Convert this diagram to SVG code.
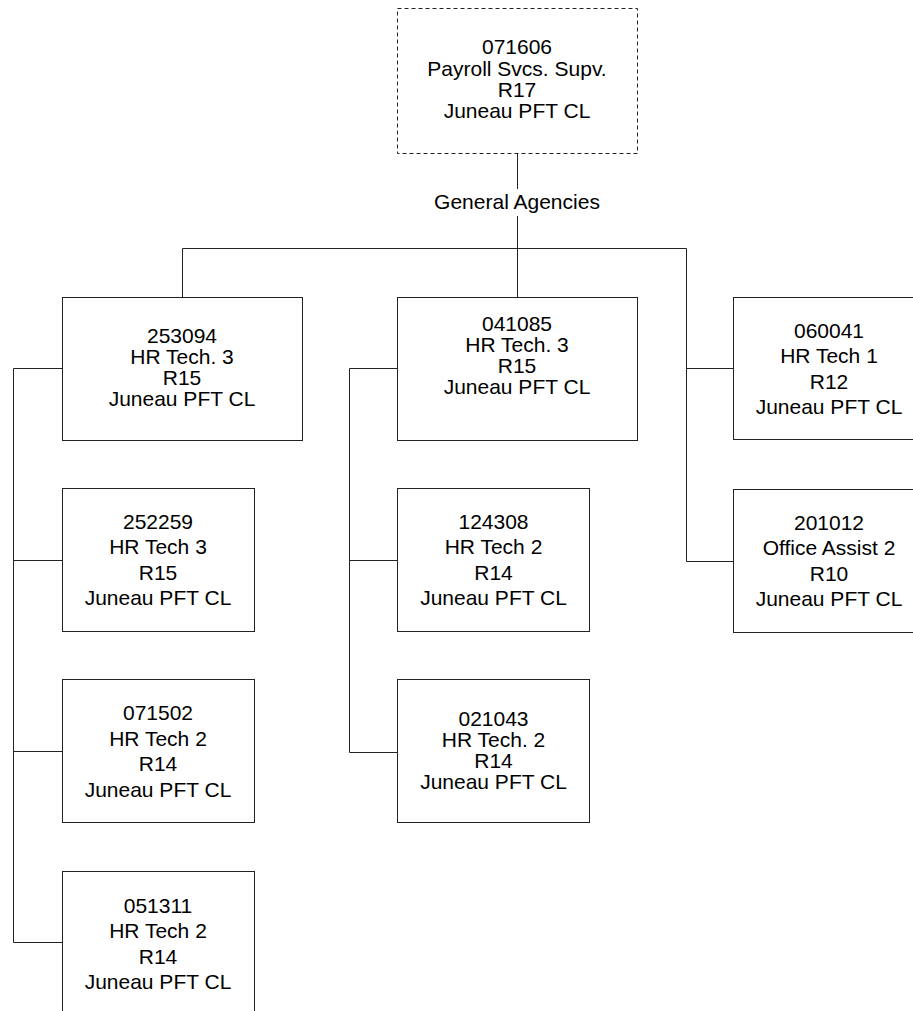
<svg xmlns="http://www.w3.org/2000/svg" width="913" height="1011" viewBox="0 0 913 1011">
<style>
.box{fill:#fff;stroke:#222;stroke-width:1}
.dash{stroke-dasharray:4 3}
.t{font-family:"Liberation Sans",Arial,sans-serif;font-size:21px;fill:#000;text-anchor:middle}
.c{fill:none;stroke:#222;stroke-width:1}
</style>
<rect width="913" height="1011" fill="#fff"/>
<g id="connectors" class="c">
<path d="M517.5,153.5V189M517.5,216V297.5"/>
<path d="M182.5,248.5H686.5M182.5,248.5V297.5M686.5,248.5V561.5"/>
<path d="M686.5,368.5H733.5M686.5,561.5H733.5"/>
<path d="M13.5,368.5V942.5M13.5,368.5H62.5M13.5,560.5H62.5M13.5,751.5H62.5M13.5,942.5H62.5"/>
<path d="M349.5,368.5V752.5M349.5,368.5H397.5M349.5,560.5H397.5M349.5,752.5H397.5"/>
</g>
<g id="label-general-agencies"><text class="t" x="517" y="209">General Agencies</text></g>
<g id="n071606">
<rect class="box dash" x="397.5" y="8.5" width="240" height="145"/>
<text class="t" x="517" y="54">071606</text>
<text class="t" x="517" y="75.5">Payroll Svcs. Supv.</text>
<text class="t" x="517" y="97">R17</text>
<text class="t" x="517" y="118">Juneau PFT CL</text>
</g>
<g id="n253094">
<rect class="box" x="62.5" y="297.5" width="240" height="143"/>
<text class="t" x="182" y="343">253094</text>
<text class="t" x="182" y="364">HR Tech. 3</text>
<text class="t" x="182" y="385">R15</text>
<text class="t" x="182" y="406">Juneau PFT CL</text>
</g>
<g id="n041085">
<rect class="box" x="397.5" y="297.5" width="240" height="143"/>
<text class="t" x="517" y="331">041085</text>
<text class="t" x="517" y="352">HR Tech. 3</text>
<text class="t" x="517" y="373">R15</text>
<text class="t" x="517" y="394">Juneau PFT CL</text>
</g>
<g id="n060041">
<rect class="box" x="733.5" y="297.5" width="192" height="142"/>
<text class="t" x="829" y="338">060041</text>
<text class="t" x="829" y="363">HR Tech 1</text>
<text class="t" x="829" y="388.5">R12</text>
<text class="t" x="829" y="413.5">Juneau PFT CL</text>
</g>
<g id="n252259">
<rect class="box" x="62.5" y="488.5" width="192" height="143"/>
<text class="t" x="158" y="529">252259</text>
<text class="t" x="158" y="554">HR Tech 3</text>
<text class="t" x="158" y="580">R15</text>
<text class="t" x="158" y="605">Juneau PFT CL</text>
</g>
<g id="n071502">
<rect class="box" x="62.5" y="679.5" width="192" height="143"/>
<text class="t" x="158" y="720">071502</text>
<text class="t" x="158" y="746">HR Tech 2</text>
<text class="t" x="158" y="771">R14</text>
<text class="t" x="158" y="797">Juneau PFT CL</text>
</g>
<g id="n051311">
<rect class="box" x="62.5" y="871.5" width="192" height="143"/>
<text class="t" x="158" y="913">051311</text>
<text class="t" x="158" y="938">HR Tech 2</text>
<text class="t" x="158" y="964">R14</text>
<text class="t" x="158" y="989">Juneau PFT CL</text>
</g>
<g id="n124308">
<rect class="box" x="397.5" y="488.5" width="192" height="143"/>
<text class="t" x="493.5" y="529">124308</text>
<text class="t" x="493.5" y="554">HR Tech 2</text>
<text class="t" x="493.5" y="580">R14</text>
<text class="t" x="493.5" y="605">Juneau PFT CL</text>
</g>
<g id="n021043">
<rect class="box" x="397.5" y="679.5" width="192" height="143"/>
<text class="t" x="493.5" y="726">021043</text>
<text class="t" x="493.5" y="747">HR Tech. 2</text>
<text class="t" x="493.5" y="768">R14</text>
<text class="t" x="493.5" y="789">Juneau PFT CL</text>
</g>
<g id="n201012">
<rect class="box" x="733.5" y="489.5" width="192" height="143"/>
<text class="t" x="829" y="530">201012</text>
<text class="t" x="829" y="555">Office Assist 2</text>
<text class="t" x="829" y="581">R10</text>
<text class="t" x="829" y="606">Juneau PFT CL</text>
</g>
</svg>
